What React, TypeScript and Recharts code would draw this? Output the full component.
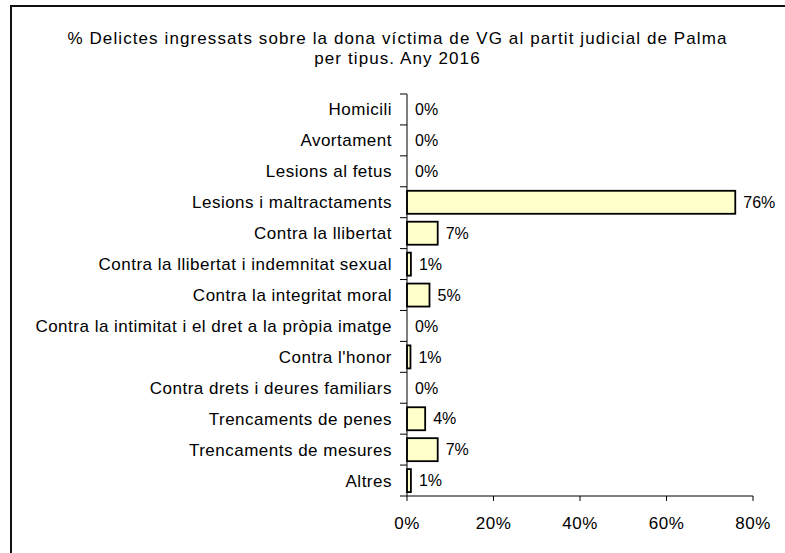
import { BarChart, Bar, XAxis, YAxis } from "recharts";

const categories = [
  "Homicili",
  "Avortament",
  "Lesions al fetus",
  "Lesions i maltractaments",
  "Contra la llibertat",
  "Contra la llibertat i indemnitat sexual",
  "Contra la integritat moral",
  "Contra la intimitat i el dret a la pròpia imatge",
  "Contra l'honor",
  "Contra drets i deures familiars",
  "Trencaments de penes",
  "Trencaments de mesures",
  "Altres",
];

const percentages = [0, 0, 0, 75.9, 7.1, 0.9, 5.2, 0, 0.8, 0, 4.2, 7.1, 0.9];

const xTicks = [0, 20, 40, 60, 80];

const data = categories.map((name, i) => ({ name, value: percentages[i] }));

const W = 785;
const H = 553;
const margin = { top: 94, right: 32, bottom: 27, left: 7 };
const plotH = H - margin.top - margin.bottom - 30;
const band = plotH / categories.length;

const font = "'Liberation Sans', Arial, sans-serif";

function CategoryTick(props: any) {
  const { x, y, payload, index } = props;
  return (
    <g>
      <line x1={x + 8} x2={x + 15} y1={y - band / 2} y2={y - band / 2} stroke="#000" />
      {index === categories.length - 1 && (
        <line x1={x + 8} x2={x + 15} y1={y + band / 2} y2={y + band / 2} stroke="#000" />
      )}
      <text
        x={x}
        y={y}
        dy="0.355em"
        textAnchor="end"
        fill="#000"
        fontSize={17}
        letterSpacing={0.5}
        fontFamily={font}
      >
        {payload.value}
      </text>
    </g>
  );
}

// bar + its value label; zero bars still get a "0%" label
function BarWithLabel(props: any) {
  const { x, y, width, height, value } = props;
  const v = Array.isArray(value) ? value[1] - value[0] : value;
  return (
    <g>
      {width > 0 && (
        <rect
          x={x}
          y={y}
          width={width}
          height={height}
          fill="#FFFFCC"
          stroke="#000"
          strokeWidth={1.8}
        />
      )}
      <text
        x={x + width + 8}
        y={y + height / 2}
        dy="0.355em"
        fill="#000"
        fontSize={16}
        fontFamily={font}
      >
        {`${Math.round(v)}%`}
      </text>
    </g>
  );
}

export default function App() {
  return (
    <div
      style={{
        position: "absolute",
        left: 0,
        top: 0,
        width: W,
        height: H,
        overflow: "hidden",
        background: "#fff",
      }}
    >
      <div
        style={{
          position: "absolute",
          left: 10,
          top: 5,
          width: 900,
          height: 700,
          border: "2px solid #111",
        }}
      />
      <div
        style={{
          position: "absolute",
          left: 0,
          top: 29,
          width: 795,
          textAlign: "center",
          fontFamily: font,
          fontSize: 17,
          letterSpacing: 1.1,
          lineHeight: "20px",
          color: "#000",
        }}
      >
        % Delictes ingressats sobre la dona víctima de VG al partit judicial de Palma
        <br />
        per tipus. Any 2016
      </div>
      <BarChart
        width={W}
        height={H}
        data={data}
        layout="vertical"
        margin={margin}
        barCategoryGap="13%"
        style={{ position: "absolute", left: 0, top: 0 }}
      >
        <XAxis
          type="number"
          domain={[0, 80]}
          ticks={xTicks}
          tickFormatter={(v: number) => `${v}%`}
          axisLine={{ stroke: "#000" }}
          tickLine={{ stroke: "#000" }}
          tickSize={5}
          tickMargin={16}
          height={30}
          tick={{ fill: "#000", fontSize: 17, fontFamily: font, letterSpacing: 0.5 }}
        />
        <YAxis
          type="category"
          dataKey="name"
          width={400}
          axisLine={{ stroke: "#000" }}
          tickLine={false}
          tickSize={7}
          tickMargin={8}
          interval={0}
          tick={<CategoryTick />}
        />
        <Bar
          dataKey="value"
          fill="#FFFFCC"
          stroke="#000"
          shape={<BarWithLabel />}
          isAnimationActive={false}
        />
      </BarChart>
    </div>
  );
}
